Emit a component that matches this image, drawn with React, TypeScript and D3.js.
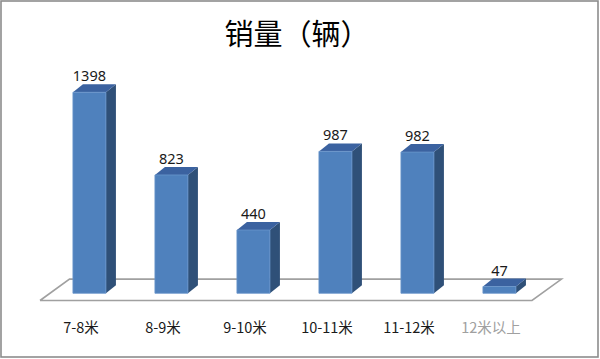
import React from "react";
import * as d3 from "d3";

const categories = ["7-8米", "8-9米", "9-10米", "10-11米", "11-12米", "12米以上"];
const values = [1398, 823, 440, 987, 982, 47];
const title = "销量（辆）";

const W = 600;
const H = 359;

export default function App() {
  const floorFrontY = 300.5;
  const floorDX = 29.5;
  const floorDY = -21.4;
  const barBaseY = 293.3;
  const depthShift = ((floorFrontY - barBaseY) * floorDX) / -floorDY;
  const x = d3.scaleBand<string>().domain(categories).range([40, 532]).padding(0);
  const y = d3.scaleLinear().domain([0, 1600]).range([barBaseY, barBaseY - 1600 * 0.14378]);
  const barW = 33;
  const bdx = 10;
  const bdy = -8;
  const barOffset = 23;

  const floorPts: [number, number][] = [
    [40, floorFrontY],
    [532, floorFrontY],
    [532 + floorDX, floorFrontY + floorDY],
    [40 + floorDX, floorFrontY + floorDY],
  ];
  const line = d3.line();

  const font = "'Noto Sans CJK SC', 'Noto Sans', sans-serif";
  const numFont = "'Noto Sans', 'Noto Sans CJK SC', sans-serif";

  return (
    <div style={{ position: "fixed", left: 0, top: 0 }}>
      <svg width={W} height={H} style={{ display: "block", background: "#fff" }}>
        <rect x={1} y={1} width={597} height={356} fill="#fff" stroke="#8c8c8c" strokeWidth={1.6} />
        <text x={297} y={45} textAnchor="middle" fontFamily={font} fontSize={29} fill="#000">
          {title}
        </text>
        <path d={line(floorPts.concat([floorPts[0]])) || ""} fill="#fff" stroke="#a0a0a0" strokeWidth={1.6} />
        {categories.map((c, i) => {
          const x0 = (x(c) as number) + depthShift + barOffset;
          const x1 = x0 + barW;
          const yt = y(values[i]);
          const yb = y(0);
          const front = `M${x0},${yt}L${x1},${yt}L${x1},${yb}L${x0},${yb}Z`;
          const side = `M${x1},${yt}L${x1 + bdx},${yt + bdy}L${x1 + bdx},${yb + bdy}L${x1},${yb}Z`;
          const top = `M${x0},${yt}L${x0 + bdx},${yt + bdy}L${x1 + bdx},${yt + bdy}L${x1},${yt}Z`;
          return (
            <g key={c}>
              <path d={side} fill="#2f5078" />
              <path d={top} fill="#3b62a0" />
              <path d={front} fill="#4f81bd" stroke="#6a96cc" strokeWidth={0.8} />
              <text
                x={(x0 + x1) / 2}
                y={yt - 11}
                textAnchor="middle"
                fontFamily={numFont}
                fontSize={14.5}
                fill="#1a1a1a"
              >
                {values[i]}
              </text>
            </g>
          );
        })}
        {categories.map((c, i) => (
          <text
            key={"l" + c}
            x={(x(c) as number) + x.bandwidth() / 2}
            y={333}
            textAnchor="middle"
            fontFamily={font}
            fontSize={14.5}
            fill={i === categories.length - 1 ? "#a0a0a0" : "#1a1a1a"}
          >
            {c}
          </text>
        ))}
      </svg>
    </div>
  );
}
